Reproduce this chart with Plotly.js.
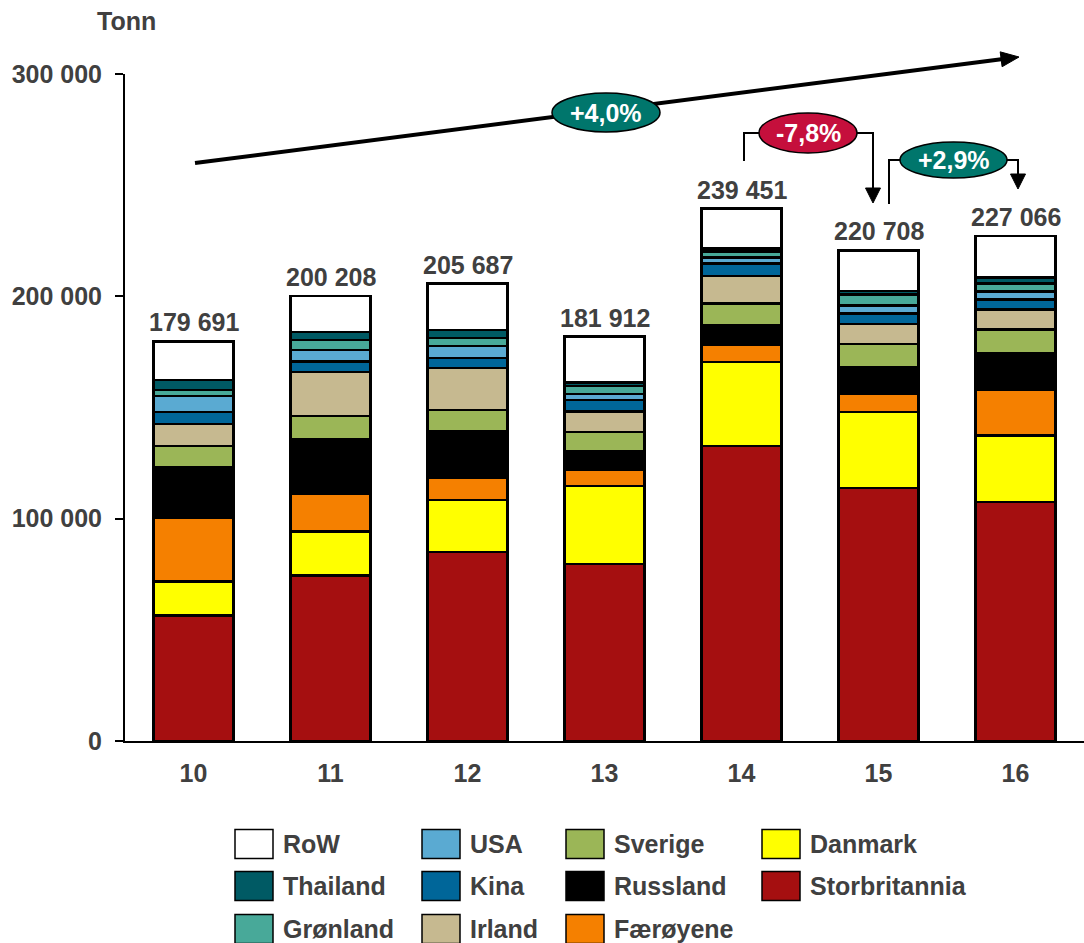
<!DOCTYPE html>
<html>
<head>
<meta charset="utf-8">
<script src="https://cdn.plot.ly/plotly-3.0.1.min.js"></script>
<style>
html,body{margin:0;padding:0;background:#fff;}
#chart{width:1084px;height:943px;}
</style>
</head>
<body>
<div id="chart"></div>
<script>
// ---- data ----
const years = ["10", "11", "12", "13", "14", "15", "16"];
const totals = [179691, 200208, 205687, 181912, 239451, 220708, 227066];

const storbritannia = [56400, 74400, 85000, 79600, 132700, 113800, 107400];
const danmark       = [15300, 19800, 23400, 35100, 37800, 34200, 30000];
const faeroyene     = [28500, 16800, 9800, 7100, 7900, 8000, 20400];
const russland      = [23100, 24900, 21300, 8500, 8700, 12100, 16600];
const sverige       = [9400, 10300, 9400, 8700, 9600, 10500, 10600];
const irland        = [9900, 19800, 18900, 9100, 12500, 9000, 9000];
const kina          = [5400, 4600, 4500, 5200, 5500, 4600, 4500];
const usa           = [7200, 5200, 5400, 2700, 2700, 3600, 3600];
const gronland      = [2700, 4500, 3600, 3700, 2700, 5100, 3600];
const thailand      = [4500, 3700, 3600, 1600, 1500, 1600, 2700];
const row           = [17291, 16208, 20787, 20612, 17851, 18208, 18666];

const seriesNames  = ["Storbritannia", "Danmark", "Færøyene", "Russland", "Sverige", "Irland", "Kina", "USA", "Grønland", "Thailand", "RoW"];
const seriesValues = [storbritannia, danmark, faeroyene, russland, sverige, irland, kina, usa, gronland, thailand, row];
const seriesColors = ["#A50F10", "#FFFF00", "#F58000", "#000000", "#9BB657", "#C6B990", "#006699", "#5AAAD2", "#48A999", "#005A64", "#FFFFFF"];

const changeLabels = ["+4,0%", "-7,8%", "+2,9%"];
const yTitle = "Tonn";

// ---- layout helpers (pixel -> paper) ----
const L = 125, T = 74, W = 959, H = 667;
const px = x => (x - L) / W;
const py = y => (T + H - y) / H;
const TXT = "#404040";
const FONT = "Liberation Sans, Arial, sans-serif";
const FS = 25;
const TEAL = "#00766C";
const RED = "#C50F3C";

const fmt = v => String(v).replace(/\B(?=(\d{3})+(?!\d))/g, " ");

const traces = seriesNames.map((name, i) => ({
  type: "bar",
  name: name,
  x: years,
  y: seriesValues[i],
  marker: {color: seriesColors[i], line: {color: "#000", width: 2.5}},
  hoverinfo: "skip",
  showlegend: false
}));

const shapes = [];
const annotations = [];

// total labels (x as category index)
years.forEach((yr, i) => {
  annotations.push({
    x: i, y: totals[i], xref: "x", yref: "y",
    text: "<b>" + fmt(totals[i]) + "</b>",
    showarrow: false, yanchor: "bottom", yshift: 3,
    font: {family: FONT, size: FS, color: TXT}
  });
});

// Y title
annotations.push({
  xref: "paper", yref: "paper", x: px(126), y: py(21),
  text: "<b>" + yTitle + "</b>", showarrow: false,
  xanchor: "center", yanchor: "middle",
  font: {family: FONT, size: FS, color: TXT}
});

function pathP(points, closed) {
  let s = points.map((p, k) => (k ? "L" : "M") + px(p[0]) + "," + py(p[1])).join(" ");
  return closed ? s + " Z" : s;
}
function arrowHead(tip, dir, len, half) {
  const n = Math.hypot(dir[0], dir[1]);
  const u = [dir[0] / n, dir[1] / n];
  const b = [tip[0] - u[0] * len, tip[1] - u[1] * len];
  const p = [-u[1], u[0]];
  return {
    type: "path", xref: "paper", yref: "paper",
    path: pathP([tip, [b[0] + p[0] * half, b[1] + p[1] * half], [b[0] - p[0] * half, b[1] - p[1] * half]], true),
    fillcolor: "#000", line: {color: "#000", width: 1}
  };
}

// trend arrow
const tStart = [195, 163], tTip = [1019, 57];
const tdir = [tTip[0] - tStart[0], tTip[1] - tStart[1]];
const tn = Math.hypot(tdir[0], tdir[1]);
shapes.push({
  type: "line", xref: "paper", yref: "paper",
  x0: px(tStart[0]), y0: py(tStart[1]),
  x1: px(tTip[0] - tdir[0] / tn * 14), y1: py(tTip[1] - tdir[1] / tn * 14),
  line: {color: "#000", width: 4}
});
shapes.push(arrowHead(tTip, tdir, 18, 7.5));

// bracket -7,8%
shapes.push({type: "path", xref: "paper", yref: "paper", path: pathP([[744, 161], [744, 133], [760, 133]]), line: {color: "#000", width: 2}});
shapes.push({type: "path", xref: "paper", yref: "paper", path: pathP([[856, 133], [873, 133], [873, 190]]), line: {color: "#000", width: 2}});
shapes.push(arrowHead([873, 203], [0, 1], 15, 7.5));
// bracket +2,9%
shapes.push({type: "path", xref: "paper", yref: "paper", path: pathP([[889, 204], [889, 160], [901, 160]]), line: {color: "#000", width: 2}});
shapes.push({type: "path", xref: "paper", yref: "paper", path: pathP([[1006, 160], [1018, 160], [1018, 176]]), line: {color: "#000", width: 2}});
shapes.push(arrowHead([1018, 189], [0, 1], 15, 7.5));

// ellipses
const ellipses = [
  {x0: 552, x1: 660, y0: 93, y1: 132, c: TEAL},
  {x0: 759, x1: 857, y0: 113, y1: 153, c: RED},
  {x0: 900, x1: 1007, y0: 142, y1: 178, c: TEAL}
];
ellipses.forEach((e, k) => {
  shapes.push({
    type: "circle", xref: "paper", yref: "paper",
    x0: px(e.x0), x1: px(e.x1), y0: py(e.y1), y1: py(e.y0),
    fillcolor: e.c, line: {color: "#000", width: 1.5}
  });
  annotations.push({
    xref: "paper", yref: "paper",
    x: px((e.x0 + e.x1) / 2), y: py((e.y0 + e.y1) / 2),
    text: "<b>" + changeLabels[k] + "</b>", showarrow: false,
    xanchor: "center", yanchor: "middle",
    font: {family: FONT, size: FS, color: "#FFFFFF"}
  });
});

// custom legend (column-major, top-down stacking order)
const legendOrder = seriesNames.slice().reverse();
const colX = [235, 422, 566, 762];
const rowY = [844, 886, 929];
legendOrder.forEach((name, i) => {
  const idx = seriesNames.indexOf(name);
  const c = Math.floor(i / 3), r = i % 3;
  const x0 = colX[c], yc = rowY[r];
  shapes.push({
    type: "rect", xref: "paper", yref: "paper",
    x0: px(x0), x1: px(x0 + 38), y0: py(yc + 14.5), y1: py(yc - 14.5),
    fillcolor: seriesColors[idx], line: {color: "#000", width: 1.5}
  });
  annotations.push({
    xref: "paper", yref: "paper", x: px(x0 + 46), y: py(yc),
    text: "<b>" + name + "</b>", showarrow: false,
    xanchor: "left", yanchor: "middle",
    font: {family: FONT, size: FS, color: TXT}
  });
});

const layout = {
  width: 1084, height: 943,
  margin: {l: L, r: 0, t: T, b: 943 - T - H, pad: 0},
  paper_bgcolor: "#fff", plot_bgcolor: "#fff",
  barmode: "stack",
  bargap: 0.415,
  separators: ", ",
  font: {family: FONT, color: TXT},
  showlegend: false,
  xaxis: {
    type: "category",
    range: [-0.5, 6.5], autorange: false,
    showline: true, linecolor: "#000", linewidth: 2,
    ticks: "", showgrid: false, zeroline: false,
    tickfont: {family: FONT, size: FS, color: TXT, weight: "bold"},
    ticklabelstandoff: 9,
    fixedrange: true
  },
  yaxis: {
    range: [0, 300000], autorange: false, dtick: 100000, tick0: 0,
    tickformat: ",d",
    showline: true, linecolor: "#000", linewidth: 2,
    ticks: "outside", ticklen: 8, tickwidth: 2, tickcolor: "#000",
    showgrid: false, zeroline: false,
    tickfont: {family: FONT, size: FS, color: TXT, weight: "bold"},
    ticklabelstandoff: 8,
    fixedrange: true
  },
  shapes: shapes,
  annotations: annotations
};

Plotly.newPlot("chart", traces, layout, {displayModeBar: false, staticPlot: true});
</script>
</body>
</html>
